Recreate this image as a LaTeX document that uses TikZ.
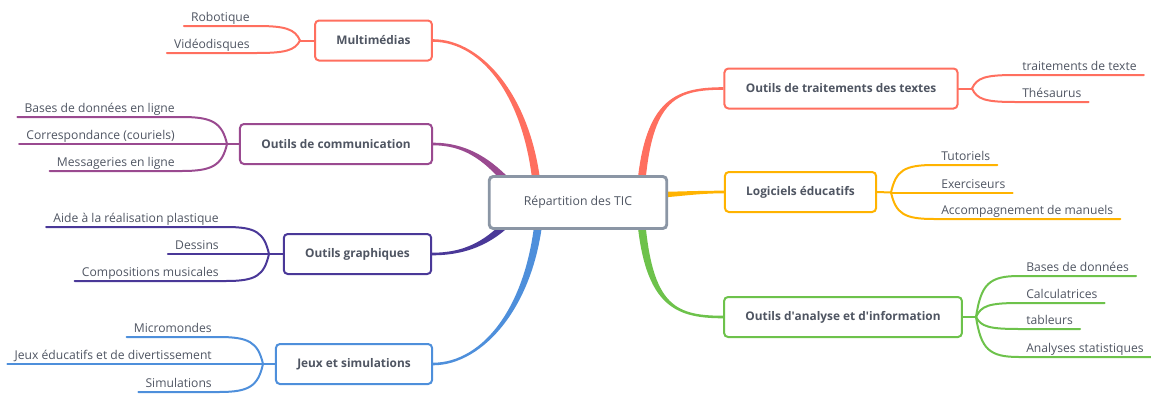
\documentclass[tikz,border=0pt]{standalone}
\usepackage{fontspec}
\setmainfont{Open Sans}
\usepackage{tikz}
\usetikzlibrary{calc,backgrounds}
\definecolor{corail}{HTML}{FF6F5F}
\definecolor{prune}{HTML}{9A4A90}
\definecolor{indigo}{HTML}{4A3898}
\definecolor{ciel}{HTML}{4E8FDB}
\definecolor{ambre}{HTML}{FFB300}
\definecolor{herbe}{HTML}{6DC24B}
\definecolor{ardoise}{HTML}{8B96A5}
\definecolor{encre}{HTML}{4F5562}
\newcommand\leafsize{\fontsize{9.1}{11}\selectfont}
\newcommand\topicsize{\fontsize{8.9}{11}\selectfont}
\tikzset{
  topic/.style={draw=#1, line width=1.5pt, rounded corners=3pt, fill=white, text=encre,
    font=\topicsize\bfseries, minimum height=30pt, inner xsep=16pt},
  leaf/.style={text=encre, font=\leafsize, inner xsep=5.25pt, inner ysep=1.2pt,
    text height=1.6ex, text depth=.35ex},
  twig/.style={line width=1.5pt, line cap=round},
}
% tapered main branch: colour, child anchor, root point, child ctrl, root ctrl, half width at root
\newcommand\limb[6]{%
  \fill[#1] ($(#2)+(0,-1.3)$) .. controls +(#4) and +(#5) .. ($(#3)+(#6)$)
    -- ($(#3)-(#6)$) .. controls +(#5) and +(#4) .. ($(#2)+(0,1.3)$) -- cycle;}

\begin{document}
\begin{tikzpicture}[x=0.75pt, y=-0.75pt]
\useasboundingbox (0,0) rectangle (1151,396);

\node[topic=ardoise, line width=2.2pt, minimum height=39pt, inner xsep=26pt,
  font=\fontsize{9.2}{11}\selectfont] (root) at (578,202.5) {Répartition des TIC};

\node[topic=corail] (mm) at (373.5,40.5) {Multimédias};
\node[topic=prune] (comm) at (336,144) {Outils de communication};
\node[topic=indigo] (graph) at (357.5,254) {Outils graphiques};
\node[topic=ciel] (jeux) at (354,364) {Jeux et simulations};
\node[topic=corail] (textes) at (841,88.5) {Outils de traitements des textes};
\node[topic=ambre] (logi) at (800.5,192) {Logiciels éducatifs};
\node[topic=herbe] (ana) at (843,317) {Outils d\textquotesingle analyse et d\textquotesingle information};

% main branches, under the boxes
\coordinate (rMM) at ($(root)+(-40,-2.5)$);
\coordinate (rCO) at ($(root)+(-63,-12.5)$);
\coordinate (rGR) at ($(root)+(-63,12.5)$);
\coordinate (rJE) at ($(root)+(-38,2.5)$);
\coordinate (rTX) at ($(root)+(62,-2.5)$);
\coordinate (rLO) at ($(root)+(72,-7.5)$);
\coordinate (rAN) at ($(root)+(62,2.5)$);
\begin{scope}[on background layer]
\limb{corail}{mm.east}{rMM}{50,0}{-6,-100}{4,0}
\limb{prune}{comm.east}{rCO}{40,0}{-20,-22}{2.8,-2.6}
\limb{indigo}{graph.east}{rGR}{40,0}{-20,22}{-2.8,-2.6}
\limb{ciel}{jeux.east}{rJE}{50,0}{-6,100}{-4,0}
\limb{corail}{textes.west}{rTX}{-50,0}{6,-100}{-4,0}
\limb{ambre}{logi.west}{rLO}{-30,0}{20,0}{0,-3}
\limb{herbe}{ana.west}{rAN}{-50,0}{6,100}{4,0}
\end{scope}

% left leaves
\coordinate (mmJ) at (300,40.5);
\draw[twig, corail] (mmJ) -- (mm.west);
\foreach \nm/\yy/\txt in {rob/26/Robotique, vid/53/Vidéodisques}{
  \node[leaf, anchor=south east] (\nm) at (257,\yy) {\txt};
  \draw[twig, corail] (mmJ) .. controls +(-5,{0.8*(\yy-40.5)}) and +(28,0) .. (\nm.south east) -- (\nm.south west);
}
\coordinate (coJ) at (227,144);
\draw[twig, prune] (coJ) -- (comm.west);
\foreach \nm/\yy/\txt in {bdl/117/Bases de données en ligne, cor/144/Correspondance (couriels), mes/171/Messageries en ligne}{
  \node[leaf, anchor=south east] (\nm) at (182,\yy) {\txt};
  \draw[twig, prune] (coJ) .. controls +(-5,{0.8*(\yy-144)}) and +(30,0) .. (\nm.south east) -- (\nm.south west);
}
\coordinate (grJ) at (269,254);
\draw[twig, indigo] (grJ) -- (graph.west);
\foreach \nm/\yy/\txt in {aid/227/Aide à la réalisation plastique, des/254/Dessins, cmp/281/Compositions musicales}{
  \node[leaf, anchor=south east] (\nm) at (226,\yy) {\txt};
  \draw[twig, indigo] (grJ) .. controls +(-5,{0.8*(\yy-254)}) and +(30,0) .. (\nm.south east) -- (\nm.south west);
}
\coordinate (jeJ) at (263,364);
\draw[twig, ciel] (jeJ) -- (jeux.west);
\foreach \nm/\yy/\txt in {mic/337/Micromondes, jed/364/Jeux éducatifs et de divertissement, sim/392/Simulations}{
  \node[leaf, anchor=south east] (\nm) at (219,\yy) {\txt};
  \draw[twig, ciel] (jeJ) .. controls +(-5,{0.8*(\yy-364)}) and +(30,0) .. (\nm.south east) -- (\nm.south west);
}

% right leaves
\coordinate (txJ) at (972,88.5);
\draw[twig, corail] (txJ) -- (textes.east);
\foreach \nm/\yy/\txt in {tdt/75/traitements de texte, the/102/Thésaurus}{
  \node[leaf, anchor=south west] (\nm) at (1015,\yy) {\txt};
  \draw[twig, corail] (txJ) .. controls +(5,{0.8*(\yy-88.5)}) and +(-30,0) .. (\nm.south west) -- (\nm.south east);
}
\coordinate (loJ) at (891,192.5);
\draw[twig, ambre] (loJ) -- (logi.east);
\foreach \nm/\yy/\txt in {tut/165/Tutoriels, exe/192.5/Exerciseurs, acc/219/Accompagnement de manuels}{
  \node[leaf, anchor=south west] (\nm) at (934,\yy) {\txt};
  \draw[twig, ambre] (loJ) .. controls +(5,{0.8*(\yy-192.5)}) and +(-30,0) .. (\nm.south west) -- (\nm.south east);
}
\coordinate (anJ) at (976,317);
\draw[twig, herbe] (anJ) -- (ana.east);
\foreach \nm/\yy/\txt in {bdd/276/Bases de données, cal/303/Calculatrices, tab/329/tableurs, ans/357/Analyses statistiques}{
  \node[leaf, anchor=south west] (\nm) at (1019,\yy) {\txt};
  \draw[twig, herbe] (anJ) .. controls +(5,{0.8*(\yy-317)}) and +(-30,0) .. (\nm.south west) -- (\nm.south east);
}
\end{tikzpicture}
\end{document}
